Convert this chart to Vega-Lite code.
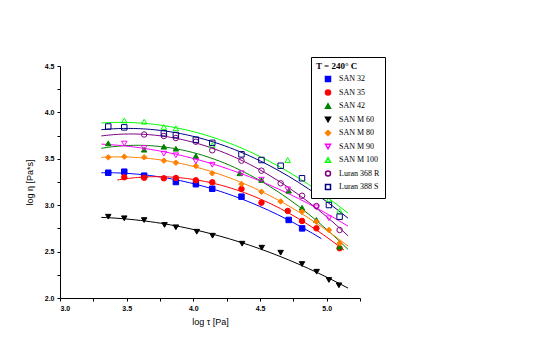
{
  "$schema": "https://vega.github.io/schema/vega-lite/v6.json",
  "width": 300,
  "height": 232,
  "autosize": "none",
  "padding": {"left": 60, "top": 66, "right": 180, "bottom": 63},
  "background": "white",
  "config": {
    "view": {"stroke": null},
    "axis": {
      "domainColor": "black", "tickColor": "black", "labelColor": "black", "titleColor": "black",
      "grid": false, "labelFont": "Liberation Sans", "labelFontSize": 7, "labelFontWeight": "bold",
      "titleFont": "Liberation Sans", "titleFontSize": 9, "titleFontWeight": "normal", "tickSize": 3
    },
    "legend": {
      "orient": "none", "legendX": 251, "legendY": -9,
      "fillColor": "white", "strokeColor": "black", "padding": 5,
      "titleFont": "Liberation Serif", "titleFontSize": 9, "titleFontWeight": "bold", "titleColor": "black",
      "labelFont": "Liberation Serif", "labelFontSize": 8, "labelColor": "black",
      "rowPadding": 1.5, "symbolSize": 25, "symbolOffset": 8, "labelOffset": 7, "titlePadding": 4
    }
  },
  "data": {"values": [
    {"s": "SAN 32", "x": 3.362, "y": 3.350},
    {"s": "SAN 32", "x": 3.482, "y": 3.361},
    {"s": "SAN 32", "x": 3.631, "y": 3.318},
    {"s": "SAN 32", "x": 3.869, "y": 3.250},
    {"s": "SAN 32", "x": 4.019, "y": 3.226},
    {"s": "SAN 32", "x": 4.142, "y": 3.177},
    {"s": "SAN 32", "x": 4.361, "y": 3.092},
    {"s": "SAN 32", "x": 4.715, "y": 2.841},
    {"s": "SAN 32", "x": 4.816, "y": 2.750},
    {"s": "SAN 35", "x": 3.482, "y": 3.301},
    {"s": "SAN 35", "x": 3.631, "y": 3.296},
    {"s": "SAN 35", "x": 3.779, "y": 3.290},
    {"s": "SAN 35", "x": 3.869, "y": 3.293},
    {"s": "SAN 35", "x": 4.019, "y": 3.268},
    {"s": "SAN 35", "x": 4.142, "y": 3.247},
    {"s": "SAN 35", "x": 4.361, "y": 3.175},
    {"s": "SAN 35", "x": 4.511, "y": 3.027},
    {"s": "SAN 35", "x": 4.708, "y": 2.938},
    {"s": "SAN 35", "x": 4.815, "y": 2.830},
    {"s": "SAN 35", "x": 4.923, "y": 2.751},
    {"s": "SAN 35", "x": 5.097, "y": 2.536},
    {"s": "SAN 42", "x": 3.362, "y": 3.667},
    {"s": "SAN 42", "x": 3.631, "y": 3.598},
    {"s": "SAN 42", "x": 3.779, "y": 3.630},
    {"s": "SAN 42", "x": 3.869, "y": 3.609},
    {"s": "SAN 42", "x": 4.019, "y": 3.530},
    {"s": "SAN 42", "x": 4.348, "y": 3.344},
    {"s": "SAN 42", "x": 4.511, "y": 3.272},
    {"s": "SAN 42", "x": 4.715, "y": 3.156},
    {"s": "SAN 42", "x": 4.815, "y": 2.973},
    {"s": "SAN 42", "x": 4.923, "y": 2.841},
    {"s": "SAN 42", "x": 5.097, "y": 2.553},
    {"s": "SAN M 60", "x": 3.362, "y": 2.876},
    {"s": "SAN M 60", "x": 3.482, "y": 2.859},
    {"s": "SAN M 60", "x": 3.631, "y": 2.840},
    {"s": "SAN M 60", "x": 3.784, "y": 2.787},
    {"s": "SAN M 60", "x": 3.869, "y": 2.762},
    {"s": "SAN M 60", "x": 4.026, "y": 2.714},
    {"s": "SAN M 60", "x": 4.144, "y": 2.671},
    {"s": "SAN M 60", "x": 4.366, "y": 2.585},
    {"s": "SAN M 60", "x": 4.513, "y": 2.542},
    {"s": "SAN M 60", "x": 4.655, "y": 2.488},
    {"s": "SAN M 60", "x": 4.815, "y": 2.366},
    {"s": "SAN M 60", "x": 4.925, "y": 2.283},
    {"s": "SAN M 60", "x": 5.017, "y": 2.194},
    {"s": "SAN M 60", "x": 5.092, "y": 2.137},
    {"s": "SAN M 80", "x": 3.362, "y": 3.516},
    {"s": "SAN M 80", "x": 3.482, "y": 3.523},
    {"s": "SAN M 80", "x": 3.631, "y": 3.516},
    {"s": "SAN M 80", "x": 3.779, "y": 3.480},
    {"s": "SAN M 80", "x": 3.869, "y": 3.458},
    {"s": "SAN M 80", "x": 4.019, "y": 3.422},
    {"s": "SAN M 80", "x": 4.142, "y": 3.344},
    {"s": "SAN M 80", "x": 4.361, "y": 3.228},
    {"s": "SAN M 80", "x": 4.511, "y": 3.145},
    {"s": "SAN M 80", "x": 4.655, "y": 3.040},
    {"s": "SAN M 80", "x": 4.815, "y": 2.930},
    {"s": "SAN M 80", "x": 4.923, "y": 2.822},
    {"s": "SAN M 80", "x": 5.017, "y": 2.733},
    {"s": "SAN M 80", "x": 5.097, "y": 2.589},
    {"s": "SAN M 90", "x": 3.482, "y": 3.664},
    {"s": "SAN M 90", "x": 3.631, "y": 3.616},
    {"s": "SAN M 90", "x": 3.779, "y": 3.555},
    {"s": "SAN M 90", "x": 3.869, "y": 3.538},
    {"s": "SAN M 90", "x": 4.019, "y": 3.473},
    {"s": "SAN M 90", "x": 4.142, "y": 3.436},
    {"s": "SAN M 90", "x": 4.361, "y": 3.344},
    {"s": "SAN M 90", "x": 4.511, "y": 3.275},
    {"s": "SAN M 90", "x": 4.708, "y": 3.171},
    {"s": "SAN M 90", "x": 4.923, "y": 2.977},
    {"s": "SAN M 90", "x": 5.017, "y": 2.859},
    {"s": "SAN M 100", "x": 3.482, "y": 3.913},
    {"s": "SAN M 100", "x": 3.631, "y": 3.900},
    {"s": "SAN M 100", "x": 3.779, "y": 3.843},
    {"s": "SAN M 100", "x": 3.869, "y": 3.829},
    {"s": "SAN M 100", "x": 4.142, "y": 3.649},
    {"s": "SAN M 100", "x": 4.708, "y": 3.487},
    {"s": "SAN M 100", "x": 5.017, "y": 3.061},
    {"s": "SAN M 100", "x": 5.097, "y": 2.938},
    {"s": "Luran 368 R", "x": 3.631, "y": 3.762},
    {"s": "Luran 368 R", "x": 3.779, "y": 3.746},
    {"s": "Luran 368 R", "x": 3.869, "y": 3.724},
    {"s": "Luran 368 R", "x": 4.019, "y": 3.684},
    {"s": "Luran 368 R", "x": 4.142, "y": 3.592},
    {"s": "Luran 368 R", "x": 4.361, "y": 3.480},
    {"s": "Luran 368 R", "x": 4.511, "y": 3.372},
    {"s": "Luran 368 R", "x": 4.655, "y": 3.236},
    {"s": "Luran 368 R", "x": 4.815, "y": 3.102},
    {"s": "Luran 368 R", "x": 4.923, "y": 2.991},
    {"s": "Luran 368 R", "x": 5.097, "y": 2.733},
    {"s": "Luran 388 S", "x": 3.362, "y": 3.848},
    {"s": "Luran 388 S", "x": 3.482, "y": 3.839},
    {"s": "Luran 388 S", "x": 3.779, "y": 3.775},
    {"s": "Luran 388 S", "x": 3.869, "y": 3.756},
    {"s": "Luran 388 S", "x": 4.019, "y": 3.706},
    {"s": "Luran 388 S", "x": 4.142, "y": 3.672},
    {"s": "Luran 388 S", "x": 4.361, "y": 3.548},
    {"s": "Luran 388 S", "x": 4.511, "y": 3.487},
    {"s": "Luran 388 S", "x": 4.655, "y": 3.425},
    {"s": "Luran 388 S", "x": 4.815, "y": 3.290},
    {"s": "Luran 388 S", "x": 5.017, "y": 3.002},
    {"s": "Luran 388 S", "x": 5.097, "y": 2.876}
  ]},
  "encoding": {
    "x": {
      "field": "x", "type": "quantitative",
      "scale": {"domain": [3, 5.25], "nice": false, "zero": false},
      "axis": {
        "title": "log τ [Pa]", "values": [3, 3.25, 3.5, 3.75, 4, 4.25, 4.5, 4.75, 5, 5.25],
        "labelExpr": "datum.value % 0.5 == 0 ? format(datum.value, '.1f') : ''",
        "labelPadding": 3, "titlePadding": 6
      }
    },
    "y": {
      "field": "y", "type": "quantitative",
      "scale": {"domain": [2, 4.5], "nice": false, "zero": false},
      "axis": {
        "title": "log η [Pa*s]", "values": [2, 2.25, 2.5, 2.75, 3, 3.25, 3.5, 3.75, 4, 4.25, 4.5],
        "labelExpr": "datum.value % 0.5 == 0 ? format(datum.value, '.1f') : ''",
        "labelPadding": 3, "titlePadding": 10
      }
    },
    "stroke": {
      "field": "s", "type": "nominal",
      "scale": {
        "domain": ["SAN 32", "SAN 35", "SAN 42", "SAN M 60", "SAN M 80", "SAN M 90", "SAN M 100", "Luran 368 R", "Luran 388 S"],
        "range": ["#0000ff", "#ff0000", "#008000", "#000000", "#ff8000", "#ff00ff", "#00ff00", "#800080", "#000080"]
      },
      "legend": {"title": "T = 240° C"}
    }
  },
  "layer": [
    {
      "transform": [
        {"filter": "datum.s != 'SAN 32' && datum.s != 'SAN 35'"},
        {"regression": "y", "on": "x", "groupby": ["s"], "method": "poly", "order": 2, "extent": [3.31, 5.16]}
      ],
      "mark": {"type": "line", "strokeWidth": 1}
    },
    {
      "transform": [
        {"filter": "datum.s == 'SAN 32'"},
        {"regression": "y", "on": "x", "groupby": ["s"], "method": "poly", "order": 2, "extent": [3.31, 4.96]}
      ],
      "mark": {"type": "line", "strokeWidth": 1}
    },
    {
      "transform": [
        {"filter": "datum.s == 'SAN 35'"},
        {"regression": "y", "on": "x", "groupby": ["s"], "method": "poly", "order": 2, "extent": [3.43, 5.13]}
      ],
      "mark": {"type": "line", "strokeWidth": 1}
    },
    {
      "mark": {"type": "point", "size": 30, "strokeWidth": 1, "opacity": 1},
      "encoding": {
        "shape": {
          "field": "s", "type": "nominal",
          "scale": {
            "domain": ["SAN 32", "SAN 35", "SAN 42", "SAN M 60", "SAN M 80", "SAN M 90", "SAN M 100", "Luran 368 R", "Luran 388 S"],
            "range": ["square", "circle", "triangle-up", "triangle-down", "diamond", "triangle-down", "triangle-up", "circle", "square"]
          },
          "legend": {"title": "T = 240° C"}
        },
        "fill": {
          "field": "s", "type": "nominal",
          "scale": {
            "domain": ["SAN 32", "SAN 35", "SAN 42", "SAN M 60", "SAN M 80", "SAN M 90", "SAN M 100", "Luran 368 R", "Luran 388 S"],
            "range": ["#0000ff", "#ff0000", "#008000", "#000000", "#ff8000", "transparent", "transparent", "transparent", "transparent"]
          },
          "legend": {"title": "T = 240° C"}
        }
      }
    }
  ]
}
